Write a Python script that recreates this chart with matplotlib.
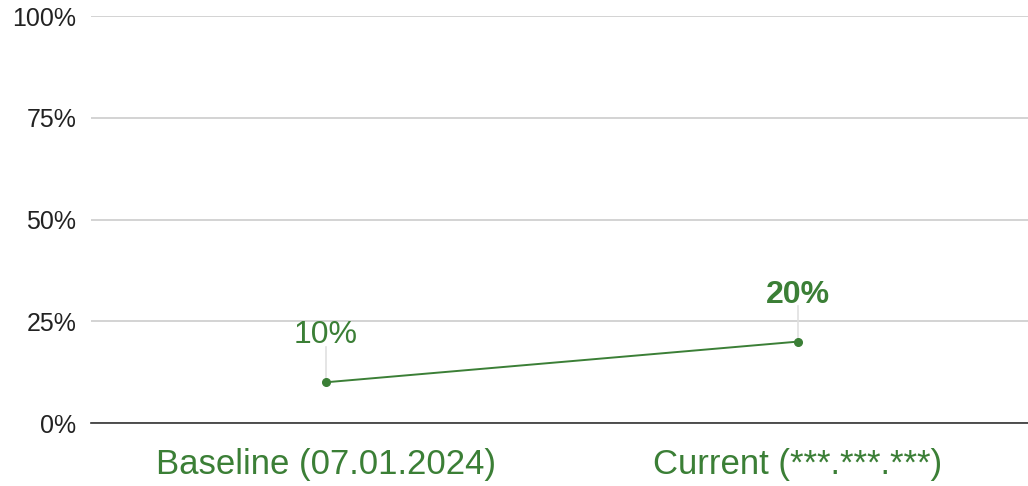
import matplotlib
matplotlib.use("Agg")
import matplotlib.pyplot as plt
from matplotlib.ticker import FuncFormatter

categories = ["Baseline (07.01.2024)", "Current (***.***.***)"]
values = [10, 20]
value_labels = ["10%", "20%"]
label_bold = [False, True]
yticks = [0, 25, 50, 75, 100]

green = "#3b7f36"
plt.rcParams['font.family'] = ['Liberation Sans', 'DejaVu Sans']

fig = plt.figure(figsize=(10.28, 4.86), dpi=100)
ax = fig.add_axes([91/1028, 1-423/486, 1-91/1028, (423-16)/486])

x = list(range(len(categories)))
ax.set_ylim(0, 100)
ax.set_xlim(-0.497, 1.487)
ax.set_yticks(yticks)
ax.yaxis.set_major_formatter(FuncFormatter(lambda v, p: f"{int(v)}%"))
ax.grid(axis='y', color='#cccccc', linewidth=1.2)
ax.set_axisbelow(True)
for s in ['top', 'right', 'left']:
    ax.spines[s].set_visible(False)
ax.spines['bottom'].set_color('#333333')
ax.spines['bottom'].set_linewidth(1.2)
ax.tick_params(axis='y', length=0, pad=10.5, labelsize=18, labelcolor='#222222')
ax.tick_params(axis='x', length=0, pad=18, labelsize=25, labelcolor=green)
ax.set_xticks(x)
ax.set_xticklabels(categories)

ax.plot(x, values, color=green, linewidth=1.4, marker='o', markersize=5.5, zorder=3)
for xi, v, lab, b in zip(x, values, value_labels, label_bold):
    ax.plot([xi, xi], [v, v + 8.7], color='#e0e0e0', linewidth=1.2, zorder=2)
    ax.text(xi, v + 9.6, lab, ha='center', va='baseline', fontsize=23, color=green,
            fontweight='bold' if b else 'normal', zorder=4)

fig.savefig("out.png", dpi=100)
